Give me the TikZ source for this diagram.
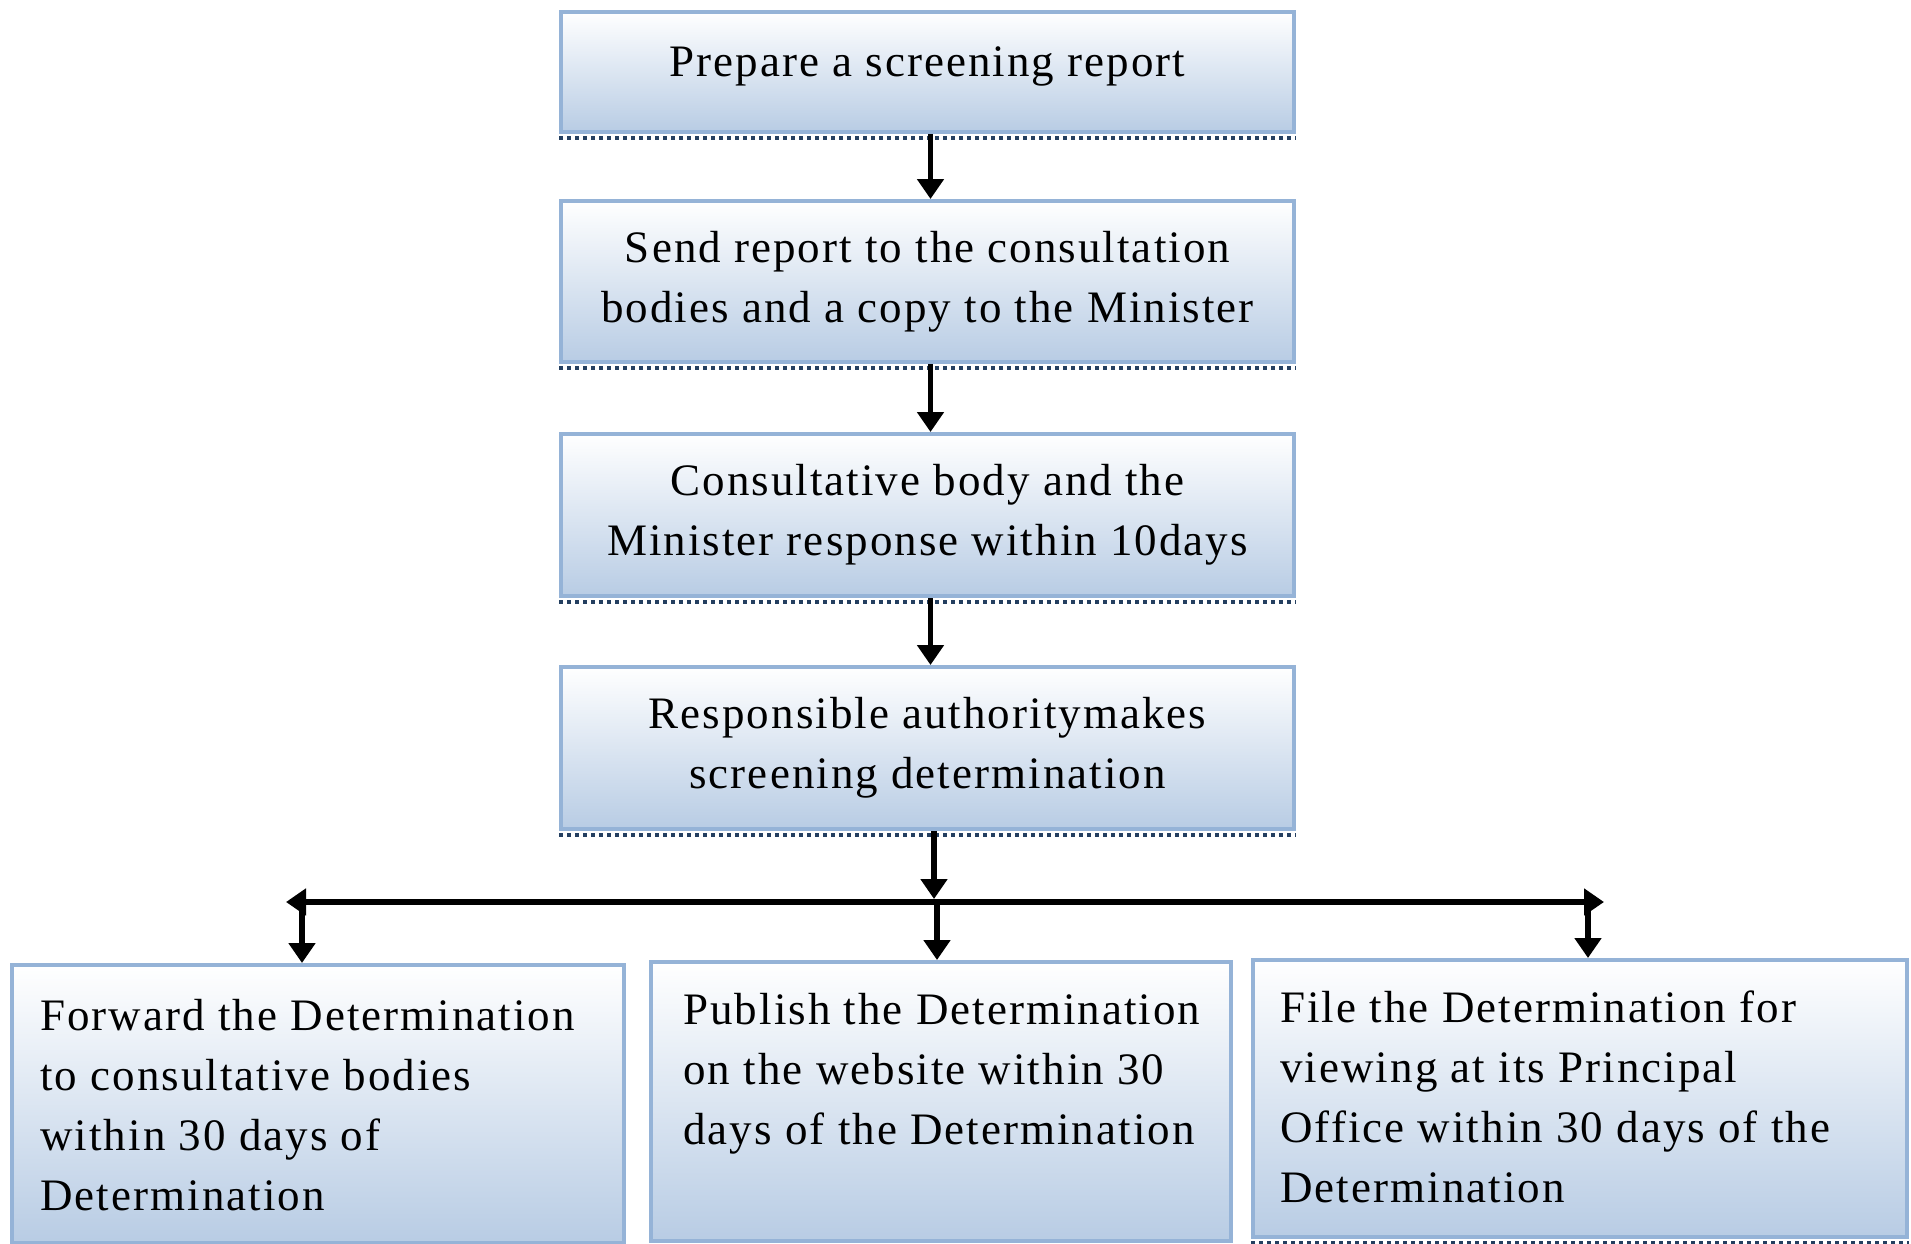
\documentclass[tikz,border=0pt]{standalone}
\usepackage{fontspec}
\setmainfont{Liberation Serif}[LetterSpace=4.5]
\usetikzlibrary{arrows.meta}
\definecolor{bordblue}{RGB}{149,179,215}
\definecolor{fillblue}{RGB}{184,204,228}
\definecolor{dotnavy}{RGB}{36,63,96}
\tikzset{
  box/.style={draw=bordblue, line width=2pt, top color=white, bottom color=fillblue, inner sep=0pt},
  txt/.style={inner sep=0pt, font=\fontsize{22.5pt}{30pt}\selectfont, text=black},
  dotline/.style={draw=dotnavy, line width=2pt, dash pattern=on 2pt off 2pt},
  conn/.style={line width=2.6pt, -{Triangle[width=13pt,length=10pt]}},
  plain/.style={line width=2.6pt}
}
\begin{document}
\begin{tikzpicture}[x=0.5pt,y=-0.5pt]
\useasboundingbox (0,0) rectangle (1911,1243);
% top column
\node[box, minimum width=366.5pt, minimum height=60pt] (b1) at (927.5,72) {};
\node[box, minimum width=366.5pt, minimum height=80.5pt] (b2) at (927.5,281.5) {};
\node[box, minimum width=366.5pt, minimum height=81pt] (b3) at (927.5,515) {};
\node[box, minimum width=366.5pt, minimum height=81pt] (b4) at (927.5,748) {};
% bottom row
\node[box, minimum width=306pt, minimum height=139pt] (b5) at (318,1104) {};
\node[box, minimum width=290pt, minimum height=139.5pt] (b6) at (941,1101.5) {};
\node[box, minimum width=327pt, minimum height=138.5pt] (b7) at (1580,1098.5) {};
% dotted shadows
\foreach \b in {b1,b2,b3,b4,b5,b6,b7}{
  \draw[dotline] ([yshift=-2pt]\b.south west) -- ([yshift=-2pt]\b.south east);
}
% texts
\node[txt, align=center] (t1) at ([yshift=3pt]b1.center) {Prepare a screening report};
\node[txt, align=center] (t2) at (b2.center) {Send report to the consultation\\bodies and a copy to the Minister};
\node[txt, align=center] (t3) at (b3.center) {Consultative body and the\\Minister response within 10days};
\node[txt, align=center] (t4) at (b4.center) {Responsible authoritymakes\\screening determination};
\node[txt, align=left, anchor=north west] (t5) at (40,999) {Forward the Determination\\to consultative bodies\\within 30 days of\\Determination};
\node[txt, align=left, anchor=north west] (t6) at (683,993) {Publish the Determination\\on the website within 30\\days of the Determination};
\node[txt, align=left, anchor=north west] (t7) at (1280,990) {File the Determination for\\viewing at its Principal\\Office within 30 days of the\\Determination};
% connectors in column
\draw[conn] ([xshift=1.5pt]b1.south) -- ([xshift=1.5pt]b2.north);
\draw[conn] ([xshift=1.5pt]b2.south) -- ([xshift=1.5pt]b3.north);
\draw[conn] ([xshift=1.5pt]b3.south) -- ([xshift=1.5pt]b4.north);
% branching
\coordinate (jM) at (934,902);
\coordinate (jL) at (302,902);
\coordinate (jR) at (1588,902);
\coordinate (tL) at (286,902);
\coordinate (tR) at (1604,902);
\coordinate (jMa) at (934,899);
\coordinate (jMb) at (937,902);
\draw[conn] (b4.south -| jM) -- (jMa);
\draw[conn] (jM) -- (tL);
\draw[conn] (jM) -- (tR);
\draw[conn] (jL) -- (jL |- b5.north);
\draw[conn] (jMb) -- (jMb |- b6.north);
\draw[conn] (jR) -- (jR |- b7.north);
\end{tikzpicture}
\end{document}
